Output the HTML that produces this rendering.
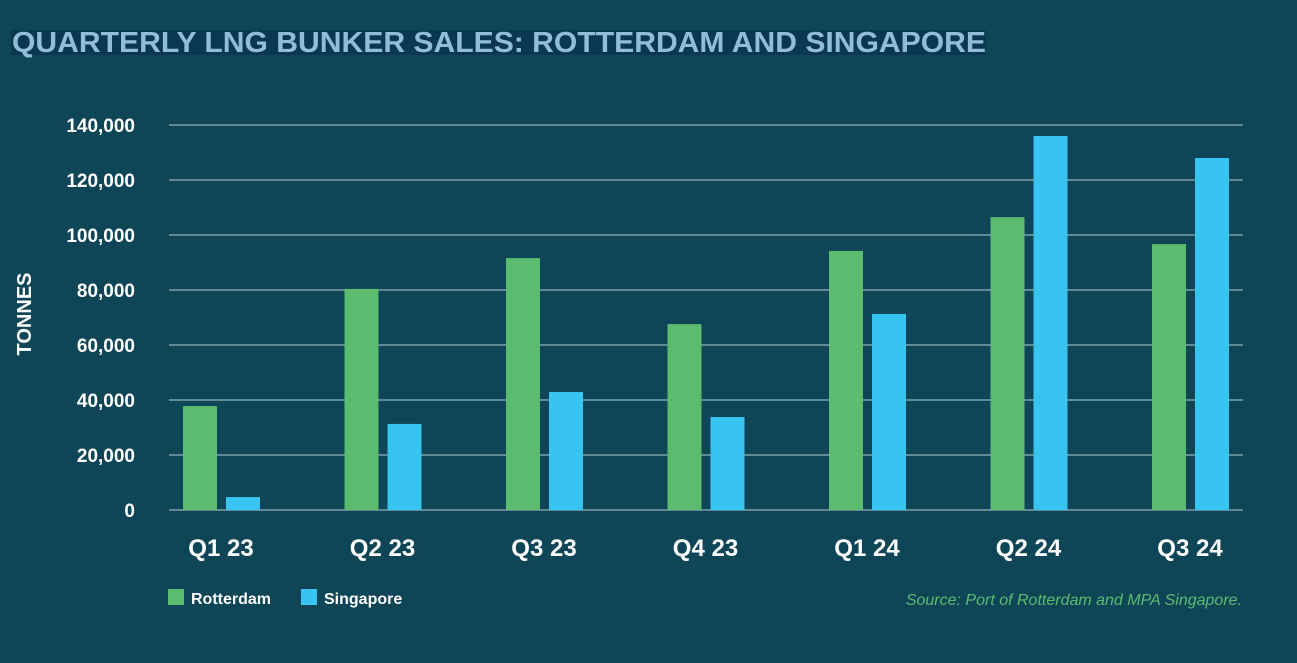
<!DOCTYPE html>
<html><head><meta charset="utf-8"><style>
body{margin:0;background:#0e4658;}
svg{display:block;font-family:"Liberation Sans","DejaVu Sans",sans-serif;}
</style></head><body>
<svg width="1297" height="663" viewBox="0 0 1297 663">
<rect x="0" y="0" width="1297" height="663" fill="#0e4658"/>
<rect x="11" y="30" width="975" height="25" fill="#0a3850"/>
<text x="12" y="52" fill="#93bcd9" font-size="29" font-weight="bold" textLength="974" lengthAdjust="spacingAndGlyphs">QUARTERLY LNG BUNKER SALES: ROTTERDAM AND SINGAPORE</text>
<text transform="translate(31,314) rotate(-90)" fill="#ffffff" font-size="20" font-weight="bold" text-anchor="middle">TONNES</text>
<g id="grid"></g><g id="bars"></g><g id="xl"></g>
<rect x="168" y="589" width="16" height="16" fill="#5bbb6f"/>
<text x="191" y="604" fill="#fff" font-size="16" font-weight="bold">Rotterdam</text>
<rect x="301" y="589" width="16" height="16" fill="#38c4f0"/>
<text x="324" y="604" fill="#fff" font-size="16" font-weight="bold">Singapore</text>
<text x="1242" y="605" fill="#5bbb6f" font-size="16" font-style="italic" text-anchor="end">Source: Port of Rotterdam and MPA Singapore.</text>
</svg>
<script>
const categories=["Q1 23","Q2 23","Q3 23","Q4 23","Q1 24","Q2 24","Q3 24"];
const rotterdam=[37800,80400,91600,67600,94200,106500,96700];
const singapore=[4700,31300,42900,33800,71300,136000,128000];
const ticks=[0,20000,40000,60000,80000,100000,120000,140000];
const tickLabels=["0","20,000","40,000","60,000","80,000","100,000","120,000","140,000"];
const NS="http://www.w3.org/2000/svg";
const y0=510, pxPer=330/120000;
const y=v=>y0-v*pxPer;
const x0=221, step=161.5;
const cx=i=>x0+i*step;
function mk(t,a,p){const e=document.createElementNS(NS,t);for(const k in a)e.setAttribute(k,a[k]);p.appendChild(e);return e;}
const grid=document.getElementById('grid'),bars=document.getElementById('bars'),xl=document.getElementById('xl');
ticks.forEach((t,i)=>{
 const l=mk('line',{x1:169,x2:1243,y1:y(t),y2:y(t),stroke:'#5f8a96','stroke-width':2},grid);
 
 
 const tx=mk('text',{x:135,y:y(t)+7,fill:'#fff','font-size':19,'font-weight':'bold','text-anchor':'end'},grid);
 tx.textContent=tickLabels[i];
 
 
});
categories.forEach((c,i)=>{
 const r=mk('rect',{x:cx(i)-38,y:y(rotterdam[i]),width:34,height:rotterdam[i]*pxPer,fill:'#5bbb6f'},bars);
 
 
 const s=mk('rect',{x:cx(i)+5,y:y(singapore[i]),width:34,height:singapore[i]*pxPer,fill:'#38c4f0'},bars);
 
 
 const t=mk('text',{x:cx(i),y:556,fill:'#fff','font-size':24,'font-weight':'bold','text-anchor':'middle'},xl);
 t.textContent=c;
 
 
});
</script>
</body></html>
